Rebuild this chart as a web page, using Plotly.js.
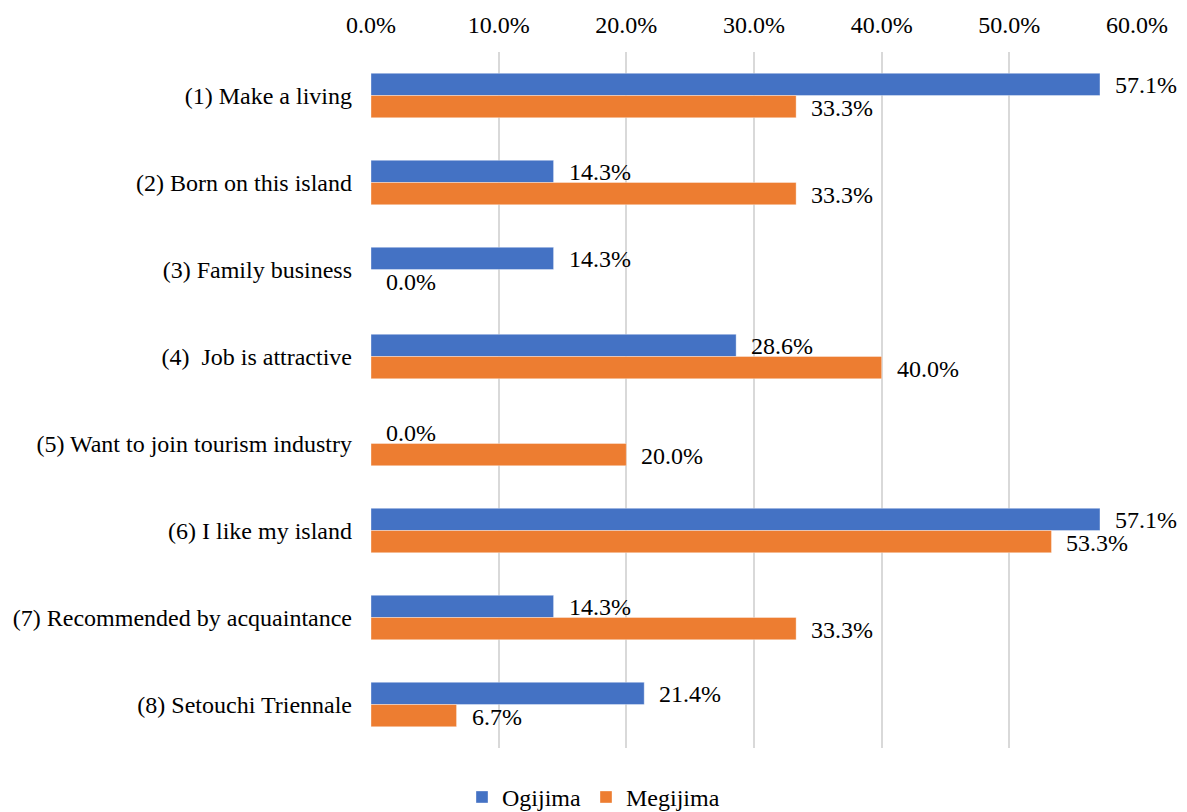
<!DOCTYPE html>
<html>
<head>
<meta charset="utf-8">
<script src="https://cdn.plot.ly/plotly-3.0.1.min.js"></script>
</head>
<body style="margin:0">
<div id="chart" style="width:1187px;height:812px"></div>
<script>
const categories = [
  "(1) Make a living",
  "(2) Born on this island",
  "(3) Family business",
  "(4)  Job is attractive",
  "(5) Want to join tourism industry",
  "(6) I like my island",
  "(7) Recommended by acquaintance",
  "(8) Setouchi Triennale"
];
const ogijima = [57.1, 14.3, 14.3, 28.6, 0.0, 57.1, 14.3, 21.4];
const megijima = [33.3, 33.3, 0.0, 40.0, 20.0, 53.3, 33.3, 6.7];
const seriesNames = ["Ogijima", "Megijima"];
const colors = ["#4472C4", "#ED7D31"];

const FAMILY = "Liberation Serif";
const FSIZE = 24;
const seriesList = [ogijima, megijima];

const traces = seriesList.map((vals, s) => ({
  type: "bar",
  orientation: "h",
  name: seriesNames[s],
  x: vals,
  y: categories,
  marker: {color: colors[s], line: {color: "rgba(255,255,255,0.6)", width: 0.6}},
  hoverinfo: "x+y"
}));

const annotations = [];
seriesList.forEach((vals, s) => {
  vals.forEach((v, i) => {
    annotations.push({
      x: v, y: categories[i], xref: "x", yref: "y",
      text: v.toFixed(1) + "%",
      showarrow: false, xanchor: "left", yanchor: "middle",
      xshift: 13, yshift: s === 0 ? 11 : -12,
      font: {family: FAMILY, size: FSIZE, color: "#000"}
    });
  });
});

const layout = {
  width: 1187, height: 812,
  margin: {l: 371, r: 50, t: 52, b: 64},
  paper_bgcolor: "#fff", plot_bgcolor: "#fff",
  barmode: "group",
  bargap: 0.49,
  bargroupgap: 0,
  showlegend: true,
  legend: {
    orientation: "h", xref: "container", yref: "container",
    x: 0.5, xanchor: "center", y: 0.018, yanchor: "middle",
    font: {family: FAMILY, size: FSIZE, color: "#000"},
    itemwidth: 30, traceorder: "normal"
  },
  xaxis: {
    side: "top", range: [0, 60], dtick: 10, tick0: 0,
    ticksuffix: "%", tickformat: ".1f",
    showgrid: true, gridcolor: "#d9d9d9", gridwidth: 2,
    zeroline: false, showline: false, ticks: "",
    ticklabelstandoff: 13,
    tickfont: {family: FAMILY, size: FSIZE, color: "#000"},
    fixedrange: true
  },
  yaxis: {
    autorange: "reversed", type: "category",
    showgrid: false, zeroline: false, showline: false, ticks: "",
    ticklabelstandoff: 18,
    tickfont: {family: FAMILY, size: FSIZE, color: "#000"},
    fixedrange: true
  },
  annotations: annotations
};

Plotly.newPlot("chart", traces, layout, {displayModeBar: false});
</script>
</body>
</html>
